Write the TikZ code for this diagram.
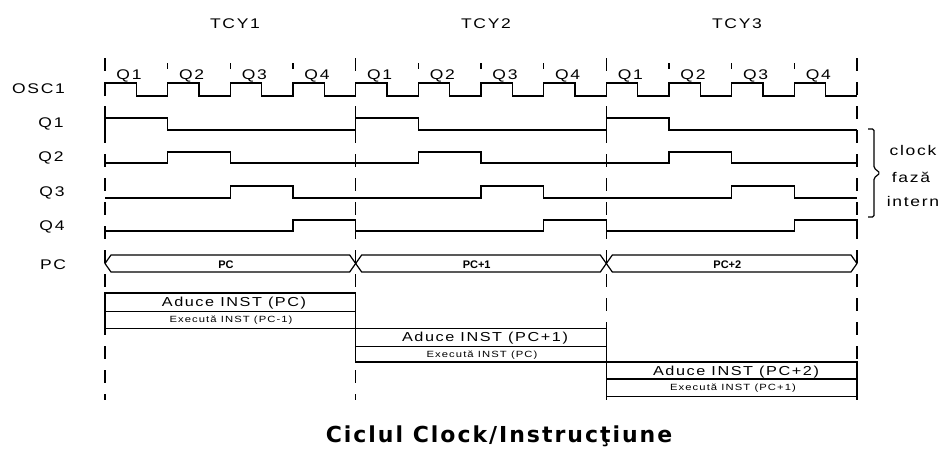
\documentclass[tikz,border=0pt]{standalone}
\usepackage{fontspec}
\setmainfont{Liberation Sans}
\newfontfamily\labfont[LetterSpace=12,FakeStretch=1.25]{Liberation Sans}
\newfontfamily\ttlfont[LetterSpace=9]{DejaVu Sans}
\begin{document}
\begin{tikzpicture}[x=1pt,y=-1pt,
  sig/.style={line width=1.2pt, line join=miter},
  gridline/.style={line width=1.1pt, dash pattern=on 13pt off 11pt},
  lab/.style={font=\labfont\fontsize{14}{16}\selectfont, inner sep=0pt, anchor=base},
  bustxt/.style={font=\bfseries\fontsize{11}{13}\selectfont, inner sep=0pt, anchor=base},
  fetch/.style={font=\labfont\fontsize{13}{15}\selectfont, inner sep=0pt, anchor=base},
  exec/.style={font=\labfont\fontsize{9}{11}\selectfont, inner sep=0pt, anchor=base},
  bracetxt/.style={font=\labfont\fontsize{14}{16}\selectfont, inner sep=0pt, anchor=base}]
\def\q{62.6667}
\def\cy{250.6667}
\useasboundingbox (0,0) rectangle (943,448);

% dashed cycle boundaries
\foreach \k in {0,1,2,3}
  \draw[gridline] ({105+\k*\cy},58) -- ({105+\k*\cy},400);

% quarter ticks and labels
\foreach \c in {0,1,2}{
  \foreach \j in {1,2,3,4}{
    \pgfmathsetmacro\xx{105+\c*\cy+(\j-1)*\q}
    \draw[sig] (\xx,63) -- (\xx,69);
    \node[lab] (ql\c\j) at (\xx+24,79) {Q\j};
  }
}

% cycle titles
\node[lab] (tcy1) at (235,28) {TCY1};
\node[lab] (tcy2) at (486,28) {TCY2};
\node[lab] (tcy3) at (737,28) {TCY3};

% left labels
\node[lab, anchor=base west] (losc) at (12,93) {OSC1};
\node[lab] (lq1) at (51,127) {Q1};
\node[lab] (lq2) at (51,161) {Q2};
\node[lab] (lq3) at (52,196) {Q3};
\node[lab] (lq4) at (52,230) {Q4};
\node[lab] (lpc) at (53,269) {PC};

% OSC1
\draw[sig] (105,96) \foreach \k in {0,...,11} { -- ++(0,-13) -- ++(\q/2,0) -- ++(0,13) -- ++(\q/2,0) };
% Q1..Q4
\draw[sig] (105,130) \foreach \c in {0,1,2} { -- ++(0,-12) -- ++(\q,0) -- ++(0,12) -- ++(3*\q,0) };
\draw[sig] (105,163) \foreach \c in {0,1,2} { -- ++(\q,0) -- ++(0,-11) -- ++(\q,0) -- ++(0,11) -- ++(2*\q,0) };
\draw[sig] (105,198) \foreach \c in {0,1,2} { -- ++(2*\q,0) -- ++(0,-12) -- ++(\q,0) -- ++(0,12) -- ++(\q,0) };
\draw[sig] (105,231) \foreach \c in {0,1,2} { -- ++(3*\q,0) -- ++(0,-11) -- ++(\q,0) -- ++(0,11) };

% PC bus
\foreach \c/\t in {0/PC,1/PC+1,2/PC+2}{
  \pgfmathsetmacro\xa{105+\c*\cy}
  \draw[sig] (\xa,263.5) -- ++(6,-8.5) -- ++(238.6667,0) -- ++(6,8.5) -- ++(-6,8.5) -- ++(-238.6667,0) -- cycle;
  \node[bustxt] (bus\c) at (\xa+121,268) {\t};
}

% instruction boxes
\draw[sig] (105,293) rectangle (355.667,328.5);
\draw[sig] (105,311.5) -- (355.667,311.5);
\node[fetch] (f1) at (234,306) {Aduce INST (PC)};
\node[exec] (e1) at (231,322) {Execută INST (PC-1)};

\draw[sig] (355.667,328.5) rectangle (606.333,362);
\draw[sig] (355.667,346.5) -- (606.333,346.5);
\node[fetch] (f2) at (485,341) {Aduce INST (PC+1)};
\node[exec] (e2) at (482,357) {Execută INST (PC)};

\draw[sig] (606.333,362) rectangle (857,396.5);
\draw[sig] (606.333,379) -- (857,379);
\node[fetch] (f3) at (736,375) {Aduce INST (PC+2)};
\node[exec] (e3) at (733,390) {Execută INST (PC+1)};

% brace
\draw[sig, rounded corners=1.5pt] (868,129) -- (874,129) -- (874,168) -- (880,173) -- (874,178) -- (874,217) -- (868,217);
\node[bracetxt] (bc1) at (913,155) {clock};
\node[bracetxt] (bc2) at (911,182) {fază};
\node[bracetxt] (bc3) at (913,206) {intern};

% title
\node[font=\ttlfont\bfseries\fontsize{22}{25}\selectfont, inner sep=0pt, anchor=base] (title) at (499,442) {Ciclul Clock/Instrucţiune};
\end{tikzpicture}
\end{document}
